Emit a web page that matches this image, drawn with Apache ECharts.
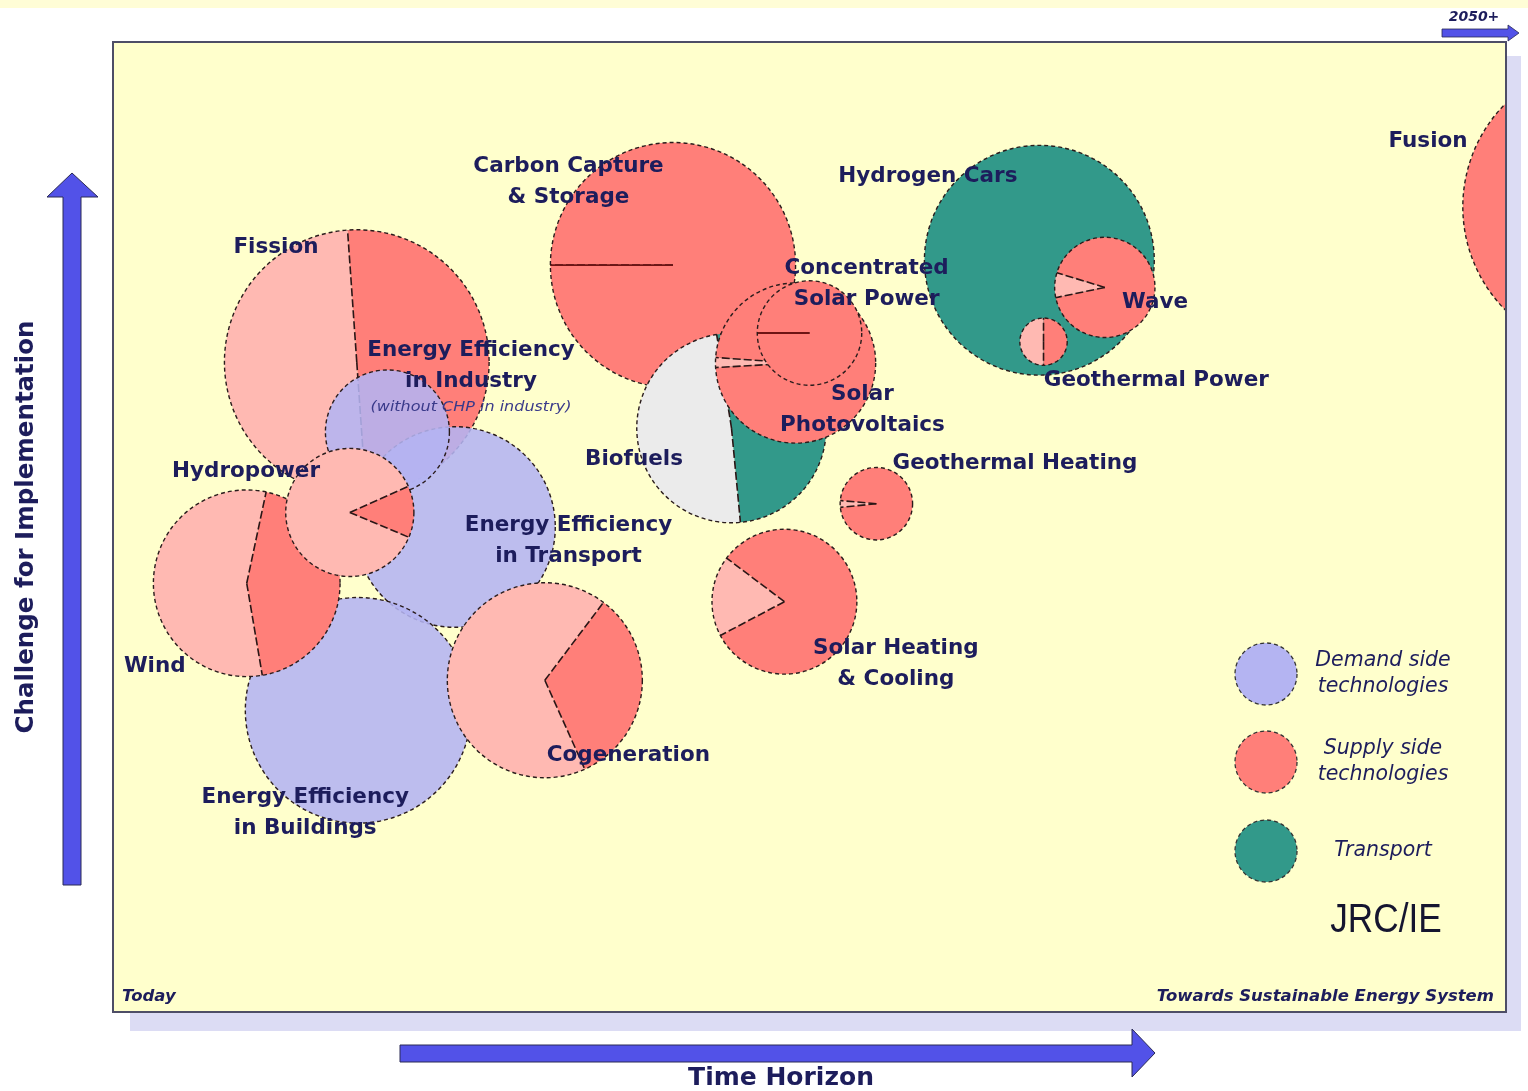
<!DOCTYPE html>
<html><head><meta charset="utf-8">
<script src="https://cdn.jsdelivr.net/npm/echarts@6/dist/echarts.min.js"></script>
<style>html,body{margin:0;padding:0;background:#fff}#c{width:1528px;height:1091px}</style>
</head><body><div id="c"></div>
<script>
// ---- DATA ----
// Draw order = array order (later items on top)
const technologies = ['Fusion','Carbon Capture & Storage','Hydrogen Cars','Wave','Geothermal Power','Fission',
  'Energy Efficiency in Transport','Energy Efficiency in Industry','Biofuels','Solar Photovoltaics',
  'Concentrated Solar Power','Geothermal Heating','Solar Heating & Cooling','Energy Efficiency in Buildings',
  'Wind','Hydropower','Cogeneration'];
// x: time horizon (0 = today, 100 = towards sustainable energy system)
const timeHorizon = [107.4, 40.2, 66.5, 71.2, 66.8, 17.5, 24.55, 19.7, 44.4, 49.0, 50.0, 54.8, 48.2, 17.6, 9.6, 17.0, 31.0];
// y: challenge for implementation (0..100)
const challenge   = [83.0, 77.0, 77.5, 74.7, 69.1, 67.0, 50.0, 59.8, 60.2, 66.9, 70.0, 52.4, 42.3, 31.1, 44.2, 51.5, 34.2];
// bubble radius, in time-horizon units
const bubbleSize  = [10.5, 8.8, 8.25, 3.6, 1.7, 9.5, 7.2, 4.45, 6.8, 5.75, 3.75, 2.6, 5.2, 8.1, 6.7, 4.6, 7.0];
// pie partition of each bubble: start angle (deg, counter-clockwise from east), shares (%), kinds
const sliceStart  = [90, 180, 90, 163, 90, 94, 90, 90, 99, 176, 180, 175, 143, 90, 78, 24, 53];
const sliceShares = [[100],[100,0],[100],[8,92],[50,50],[50,50],[100],[100],[49,51],[2,98],[100,0],[3,97],[18,82],[100],[56,44],[87,13],[67,33]];
const sliceKinds  = [['S'],['S','L'],['T'],['L','S'],['L','S'],['L','S'],['D'],['D'],['G','T'],['L','S'],['S','L'],['L','S'],['L','S'],['D'],['L','S'],['L','S'],['L','S']];
// labels
const labelText = ['Fusion','Carbon Capture\n& Storage','Hydrogen Cars','Wave','Geothermal Power','Fission',
  'Energy Efficiency\nin Transport','Energy Efficiency\nin Industry','Biofuels','Solar\nPhotovoltaics',
  'Concentrated\nSolar Power','Geothermal Heating','Solar Heating\n& Cooling','Energy Efficiency\nin Buildings',
  'Wind','Hydropower','Cogeneration'];
const labelX = [94.4, 32.7, 58.5, 74.8, 74.9, 11.7, 32.7, 25.7, 37.4, 53.8, 54.1, 64.75, 56.2, 13.8, 3.0, 9.55, 37.0];
const labelY = [89.7, 85.6, 86.1, 73.2, 65.1, 78.8, 48.6, 66.6, 57.0, 62.1, 75.1, 56.6, 35.9, 20.5, 35.6, 55.7, 26.5];
const noteText = ['(without CHP in industry)'];
const noteX = [25.7];
const noteY = [62.3];
const legendNames = ['Demand side\ntechnologies', 'Supply side\ntechnologies', 'Transport'];
const legendKinds = ['D', 'S', 'T'];
const axisTexts = {y: 'Challenge for Implementation', x: 'Time Horizon', start: 'Today', end: 'Towards Sustainable Energy System', beyond: '2050+', credit: 'JRC/IE'};

// ---- STYLE ----
const COLORS = {D: '#b4b4f2', S: '#ff7f79', L: '#ffb9b2', T: '#32998a', G: '#ebebeb'};
const NAVY = '#1d1d5c';
const DEG = Math.PI / 180;

function renderBubble(params, api) {
  const i = params.dataIndex;
  const c = api.coord([api.value(0), api.value(1)]);
  const R = api.size([api.value(2), 0])[0];
  const shares = sliceShares[i], kinds = sliceKinds[i];
  const total = shares.reduce((a, b) => a + b, 0);
  const children = [];
  let a = sliceStart[i];
  const bounds = [];
  shares.forEach((s, k) => {
    const a2 = a + s / total * 360;
    const op = kinds[k] === 'D' ? 0.88 : 1;
    if (s > 0) {
      if (s / total > 0.9999) {
        children.push({type: 'circle', shape: {cx: c[0], cy: c[1], r: R}, style: {fill: COLORS[kinds[k]], opacity: op}});
      } else {
        children.push({type: 'sector', shape: {cx: c[0], cy: c[1], r0: 0, r: R, startAngle: -a2 * DEG, endAngle: -a * DEG, clockwise: true},
          style: {fill: COLORS[kinds[k]], opacity: op}});
      }
    }
    bounds.push({ang: a, zero: s === 0});
    a = a2;
  });
  if (shares.length > 1) {
    bounds.forEach(b => children.push({type: 'line',
      shape: {x1: c[0], y1: c[1], x2: c[0] + R * Math.cos(b.ang * DEG), y2: c[1] - R * Math.sin(b.ang * DEG)},
      style: b.zero ? {stroke: '#6e1414', lineWidth: 1.8} : {stroke: '#2a1616', lineWidth: 1.6, lineDash: [8, 3]}}));
  }
  children.push({type: 'circle', shape: {cx: c[0], cy: c[1], r: R},
    style: {fill: 'none', stroke: '#2a1c1c', lineWidth: 1.4, lineDash: [4, 3]}});
  return {type: 'group', children};
}

function renderLabel(params, api) {
  const c = api.coord([api.value(0), api.value(1)]);
  return {type: 'text', style: {text: labelText[params.dataIndex], x: c[0], y: c[1], align: 'center', verticalAlign: 'middle',
    font: 'bold 21.5px "DejaVu Sans"', fill: NAVY, lineHeight: 31}};
}
function renderNote(params, api) {
  const c = api.coord([api.value(0), api.value(1)]);
  return {type: 'text', x: c[0], y: c[1], scaleY: 0.85, style: {text: noteText[params.dataIndex], x: 0, y: 0, align: 'center', verticalAlign: 'middle',
    font: 'italic 16px "DejaVu Sans"', fill: '#3a3a8a'}};
}

const chart = echarts.init(document.getElementById('c'), null, {renderer: 'canvas'});

const legendGraphics = [];
const legendY = [674, 762, 851];
legendNames.forEach((n, k) => {
  legendGraphics.push({type: 'circle', shape: {cx: 1266, cy: legendY[k], r: 31}, z: 5,
    style: {fill: COLORS[legendKinds[k]], stroke: '#333', lineWidth: 1.3, lineDash: [4, 3]}});
  legendGraphics.push({type: 'text', z: 5, style: {text: n, x: 1383, y: legendY[k], align: 'center', verticalAlign: 'middle',
    font: 'italic 20.5px "DejaVu Sans"', fill: NAVY, lineHeight: 26}});
});

const ARROW_FILL = '#5252e8';
chart.setOption({
  backgroundColor: '#ffffff',
  animation: false,
  grid: {left: 113, top: 42, width: 1393, height: 970},
  xAxis: {type: 'value', min: 0, max: 100, show: false},
  yAxis: {type: 'value', min: 0, max: 100, show: false},
  graphic: [
    {type: 'rect', shape: {x: 0, y: 0, width: 1528, height: 8}, z: -10, style: {fill: '#fffdd6'}},
    {type: 'rect', shape: {x: 130, y: 56, width: 1391, height: 975}, z: -10, style: {fill: '#dcdcf4'}},
    {type: 'rect', shape: {x: 113, y: 42, width: 1393, height: 970}, z: -9, style: {fill: '#ffffcc'}},
    {type: 'rect', shape: {x: 113, y: 42, width: 1393, height: 970}, z: 8, style: {fill: 'none', stroke: '#4e4e66', lineWidth: 2}},
    // vertical arrow
    {type: 'polygon', z: 5, shape: {points: [[63, 885], [81, 885], [81, 197], [98, 197], [72, 173], [47, 197], [63, 197]]},
      style: {fill: ARROW_FILL, stroke: '#2a2a55', lineWidth: 1}},
    {type: 'text', z: 5, rotation: Math.PI / 2, x: 27, y: 527,
      style: {text: axisTexts.y, align: 'center', verticalAlign: 'middle', font: 'bold 24.5px "DejaVu Sans"', fill: NAVY}},
    // horizontal arrow
    {type: 'polygon', z: 5, shape: {points: [[400, 1045], [1132, 1045], [1132, 1029], [1155, 1053], [1132, 1077], [1132, 1062], [400, 1062]]},
      style: {fill: ARROW_FILL, stroke: '#2a2a55', lineWidth: 1}},
    {type: 'text', z: 5, x: 781, y: 1078,
      style: {text: axisTexts.x, align: 'center', verticalAlign: 'middle', font: 'bold 25px "DejaVu Sans"', fill: NAVY}},
    // small 2050+ arrow
    {type: 'polygon', z: 9, shape: {points: [[1442, 29], [1508, 29], [1508, 25], [1519, 33], [1508, 41], [1508, 37], [1442, 37]]},
      style: {fill: ARROW_FILL, stroke: '#2a2a55', lineWidth: 0.8}},
    {type: 'text', z: 9, x: 1474, y: 17,
      style: {text: axisTexts.beyond, align: 'center', verticalAlign: 'middle', font: 'italic bold 14px "DejaVu Sans"', fill: NAVY}},
    {type: 'text', z: 9, x: 122, y: 997,
      style: {text: axisTexts.start, align: 'left', verticalAlign: 'middle', font: 'italic bold 16.5px "DejaVu Sans"', fill: NAVY}},
    {type: 'text', z: 9, x: 1494, y: 997,
      style: {text: axisTexts.end, align: 'right', verticalAlign: 'middle', font: 'italic bold 16.5px "DejaVu Sans"', fill: NAVY}},
    {type: 'text', z: 9, x: 1386, y: 921, scaleX: 0.88,
      style: {text: axisTexts.credit, x: 0, y: 0, align: 'center', verticalAlign: 'middle', font: '40px "Liberation Sans"', fill: '#151530'}},
    ...legendGraphics
  ],
  series: [
    {type: 'custom', clip: true, z: 2, renderItem: renderBubble,
      data: technologies.map((n, i) => ({name: n, value: [timeHorizon[i], challenge[i], bubbleSize[i]]}))},
    {type: 'custom', z: 10, renderItem: renderLabel,
      data: labelText.map((t, i) => [labelX[i], labelY[i]])},
    {type: 'custom', z: 10, renderItem: renderNote,
      data: noteText.map((t, i) => [noteX[i], noteY[i]])}
  ]
});
</script></body></html>
